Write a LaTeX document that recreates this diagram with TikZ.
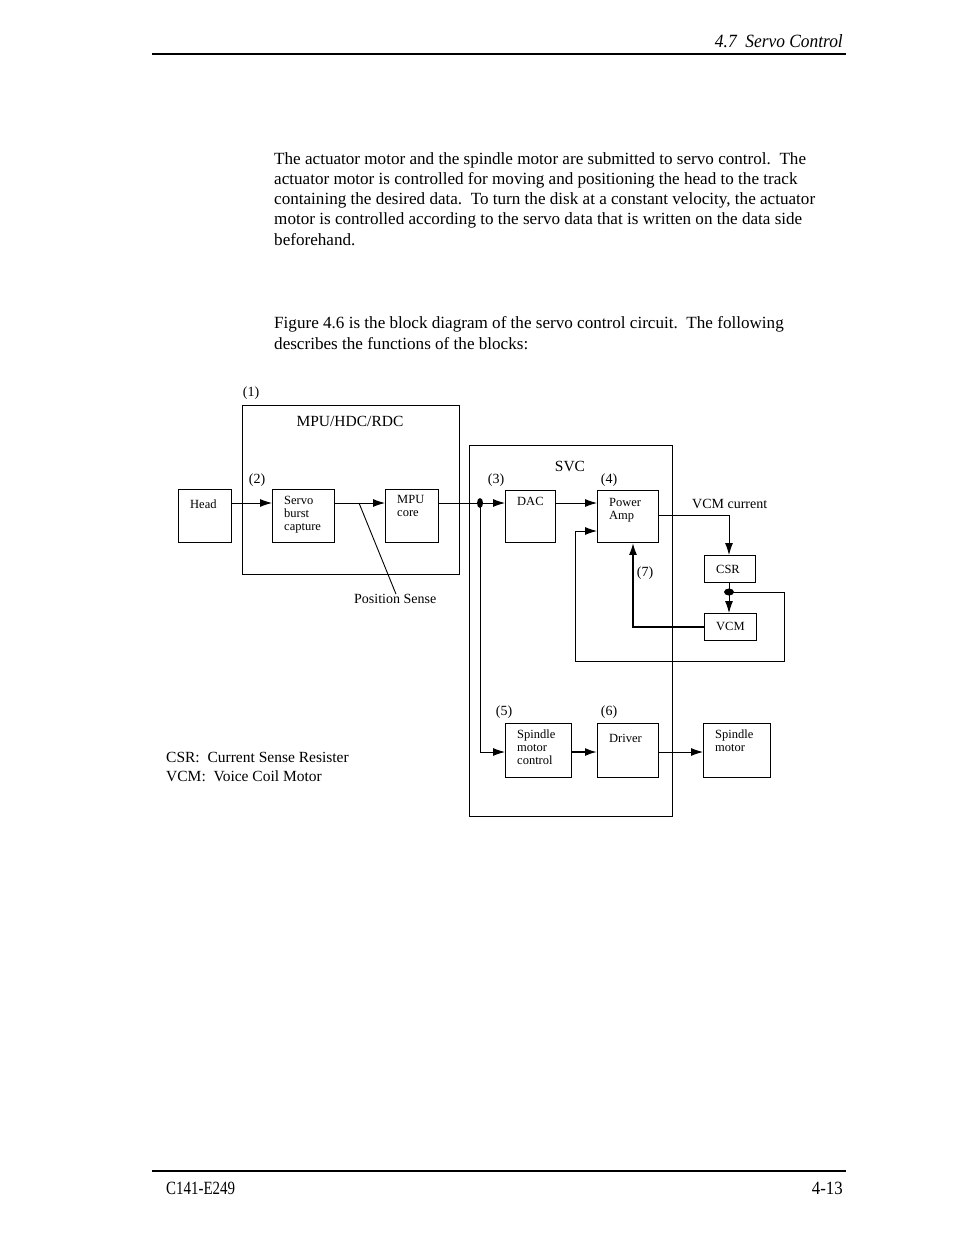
\documentclass[tikz,border=0pt]{standalone}
\usepackage{fontspec}
\setmainfont{Liberation Serif}
\usetikzlibrary{arrows.meta,calc}
\begin{document}
\begin{tikzpicture}[x=1pt,y=-1pt,
  box/.style={draw, line width=0.9pt, inner sep=0pt, anchor=north west},
  lbl/.style={inner sep=0pt, anchor=west, font=\fontsize{12.5}{13}\selectfont, align=left},
  small/.style={inner sep=0pt, font=\fontsize{14}{15}\selectfont},
  mid/.style={inner sep=0pt, font=\fontsize{15.5}{17}\selectfont},
  body/.style={inner sep=0pt, anchor=west, font=\fontsize{17.1}{20}\selectfont},
  conn/.style={line width=0.9pt},
  arr/.style={line width=0.9pt, -{Latex[length=12pt,width=8pt]}},
  thickarr/.style={line width=1.8pt, -{Latex[length=12pt,width=8pt]}},
  dot/.style={fill=black, draw=none}
]
\useasboundingbox (0,0) rectangle (954,1235);
\fill[white] (0,0) rectangle (954,1235);
% header / footer
\draw[line width=1.2pt] (152,54) -- (846,54);
\node[inner sep=0pt, anchor=east, xscale=0.93, font=\fontsize{18.7}{20}\selectfont\itshape] (hdr) at (843,41) {4.7\ \ Servo Control};
\draw[line width=1.2pt] (152,1171) -- (846,1171);
\node[inner sep=0pt, anchor=west, xscale=0.8, font=\fontsize{18.7}{20}\selectfont] (ftl) at (166,1188) {C141-E249};
\node[inner sep=0pt, anchor=east, xscale=0.9, font=\fontsize{18.7}{20}\selectfont] (ftr) at (843,1188) {4-13};
% body text
\node[body] (p1a) at (274,160) {The actuator motor and the spindle motor are submitted to servo control.\ \ The};
\node[body] (p1b) at (274,180) {actuator motor is controlled for moving and positioning the head to the track};
\node[body] (p1c) at (274,200) {containing the desired data.\ \ To turn the disk at a constant velocity, the actuator};
\node[body] (p1d) at (274,220) {motor is controlled according to the servo data that is written on the data side};
\node[body] (p1e) at (274,240) {beforehand.};
\node[body] (p2a) at (274,324) {Figure 4.6 is the block diagram of the servo control circuit.\ \ The following};
\node[body] (p2b) at (274,344) {describes the functions of the blocks:};
% outer boxes
\node[box, minimum width=217pt, minimum height=169pt] (mpu) at (242,405) {};
\node[mid] (mpul) at (350,421) {MPU/HDC/RDC};
\node[small] (n1) at (251,393) {(1)};
\node[box, minimum width=203pt, minimum height=371pt] (svc) at (469,445) {};
\node[mid] (svcl) at (570,466) {SVC};
% blocks
\node[box, minimum width=53pt, minimum height=53pt] (head) at (178,489) {};
\node[lbl] (headl) at (190,504) {Head};
\node[box, minimum width=62pt, minimum height=53pt] (sbc) at (272,489) {};
\node[lbl, anchor=north west] (sbcl) at (284,496) {Servo\\burst\\capture};
\node[small] (n2) at (257,480) {(2)};
\node[box, minimum width=53pt, minimum height=53pt] (core) at (385,489) {};
\node[lbl, anchor=north west] (corel) at (397,495) {MPU\\core};
\node[box, minimum width=50pt, minimum height=52pt] (dac) at (505,490) {};
\node[lbl] (dacl) at (517,501) {DAC};
\node[small] (n3) at (496,480) {(3)};
\node[box, minimum width=61pt, minimum height=52pt] (pamp) at (597,490) {};
\node[lbl, anchor=north west] (pampl) at (609,498) {Power\\Amp};
\node[small] (n4) at (609,480) {(4)};
\node[mid, anchor=west, font=\fontsize{14}{15}\selectfont] (vcmc) at (692,504) {VCM current};
\node[box, minimum width=51pt, minimum height=27pt] (csr) at (704,555) {};
\node[lbl] (csrl) at (716,569) {CSR};
\node[box, minimum width=52pt, minimum height=27pt] (vcm) at (704,613) {};
\node[lbl] (vcml) at (716,626) {VCM};
\node[small] (n7) at (645,573) {(7)};
\node[box, minimum width=66pt, minimum height=54pt] (smc) at (505,723) {};
\node[lbl, anchor=north west] (smcl) at (517,730) {Spindle\\motor\\control};
\node[small] (n5) at (504,712) {(5)};
\node[box, minimum width=61pt, minimum height=54pt] (drv) at (597,723) {};
\node[lbl] (drvl) at (609,738) {Driver};
\node[small] (n6) at (609,712) {(6)};
\node[box, minimum width=67pt, minimum height=54pt] (spm) at (703,723) {};
\node[lbl, anchor=north west] (spml) at (715,730) {Spindle\\motor};
\node[mid, anchor=west, font=\fontsize{14}{15}\selectfont] (pos) at (354,599) {Position Sense};
\node[mid, anchor=west] (leg1) at (166,757) {CSR:\ \ Current Sense Resister};
\node[mid, anchor=west] (leg2) at (166,776) {VCM:\ \ Voice Coil Motor};
% junction coordinates
\coordinate (j1) at (480,503);
\coordinate (j2) at (729,592);
\coordinate (ps) at (359,503);
% connectors
\draw[arr] ([yshift=-14pt]head.north east) -- ([yshift=-14pt]sbc.north west);
\draw[arr] ([yshift=-14pt]sbc.north east) -- ([yshift=-14pt]core.north west);
\draw[conn] (ps) -- (pos.north -| 396,0);
\draw[conn] ([yshift=-14pt]core.north east) -- (j1);
\draw[arr] (j1) -- ([yshift=-13pt]dac.north west);
\draw[arr] ([yshift=-13pt]dac.north east) -- ([yshift=-13pt]pamp.north west);
\draw[arr] (j1) |- ([yshift=-29pt]smc.north west);
\draw[thickarr] ([yshift=-29pt]smc.north east) -- ([yshift=-29pt]drv.north west);
\draw[arr] ([yshift=-29pt]drv.north east) -- ([yshift=-29pt]spm.north west);
\draw[arr] ([yshift=-25pt]pamp.north east) -| (csr.north -| j2);
\draw[arr] (csr.south -| j2) -- (vcm.north -| j2);
\draw[thickarr] (vcm.west) -| (pamp.south -| 633,0);
\draw[arr] (j2) -| (784,661) -| (575,531) -- ([yshift=-41pt]pamp.north west);
\fill[dot] (j1) ellipse [x radius=3pt, y radius=5pt];
\fill[dot] (j2) ellipse [x radius=5pt, y radius=3.5pt];
\end{tikzpicture}
\end{document}
